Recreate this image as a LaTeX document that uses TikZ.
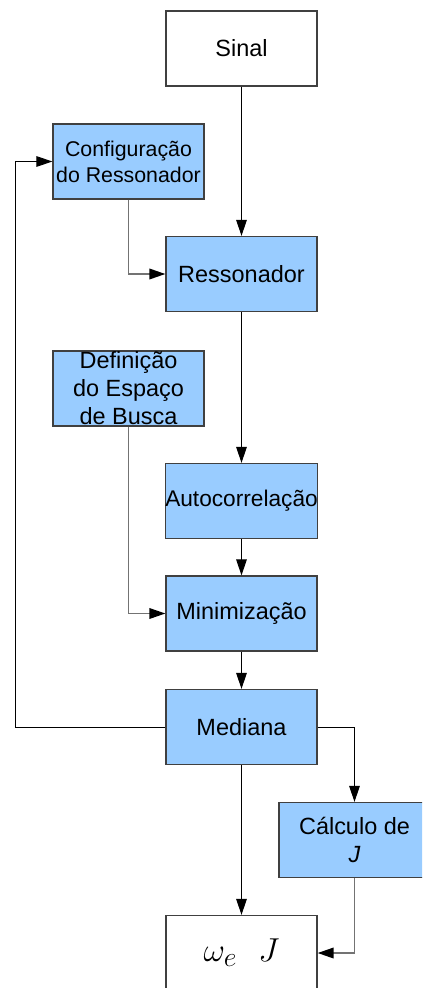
\documentclass[tikz,border=0pt]{standalone}
\usepackage{fontspec}
\setmainfont{Liberation Sans}
\usepackage{tikz}
\usetikzlibrary{arrows.meta}

\definecolor{azulbloco}{RGB}{153,204,255}

\begin{document}
\begin{tikzpicture}[x=0.75pt,y=-0.75pt,
    caixa/.style={draw=black!75,line width=1pt,minimum width=113.25pt,minimum height=56.25pt,
      inner sep=0pt,align=center,font=\fontsize{17.6}{21}\selectfont},
    bloco/.style={caixa,fill=azulbloco},
    seta/.style={-{Triangle[length=12pt,width=8pt,color=black]},line width=0.7pt},
    cinza/.style={draw=black!55,line width=1.1pt}]
  \useasboundingbox (0,0) rectangle (422,988);
  \clip (0,0) rectangle (422,988);

  % Blocks
  \node[caixa] (sinal) at (241.5,48.5) {Sinal};
  \node[bloco,font=\fontsize{16}{19.5}\selectfont] (config) at (128.5,161.5) {Configuração\\do Ressonador};
  \node[bloco] (resson) at (241.5,274) {Ressonador};
  \node[bloco] (defin) at (128.5,388.5) {Definição\\do Espaço\\de Busca};
  \node[bloco,font=\fontsize{17}{20}\selectfont] (autoc) at (241.5,501) {Autocorrelação};
  \node[bloco] (minim) at (241.5,613.5) {Minimização};
  \node[bloco] (mediana) at (241.5,727) {Mediana};
  \node[bloco] (calculo) at (354.5,840) {Cálculo de\\\textit{J}};
  \node[caixa,font=\fontsize{29}{32}\selectfont] (saida) at (241.5,953) {$\omega_e\hspace{0.55em}J$};

  % Feedback corner
  \coordinate (volta) at (15,727);

  % Connectors
  \draw[seta] (sinal) -- (resson);
  \draw[seta,cinza] (config.south) |- (resson.west);
  \draw[seta] (resson) -- (autoc);
  \draw[seta] (autoc) -- (minim);
  \draw[seta,cinza] (defin.south) |- (minim.west);
  \draw[seta] (minim) -- (mediana);
  \draw[seta] (mediana.west) -- (volta) |- (config.west);
  \draw[seta] (mediana.east) -| (calculo.north);
  \draw[seta] (mediana) -- (saida);
  \draw[seta,cinza] (calculo.south) |- (saida.east);
\end{tikzpicture}
\end{document}
